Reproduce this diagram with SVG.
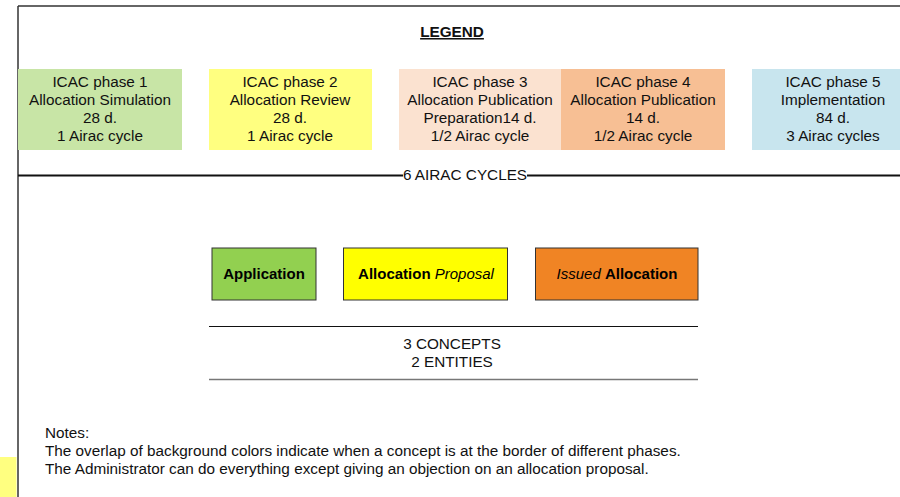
<svg xmlns="http://www.w3.org/2000/svg" width="900" height="497" viewBox="0 0 900 497">
<style>
.t{font-family:"Liberation Sans",Arial,sans-serif;font-size:15.3px;fill:#111;text-anchor:middle}
.c{font-family:"Liberation Sans",Arial,sans-serif;font-size:15px;fill:#000;text-anchor:middle}
.n{font-family:"Liberation Sans",Arial,sans-serif;font-size:15.3px;fill:#111}
.box{stroke:#333;stroke-width:1}
</style>
<rect width="900" height="497" fill="#fff"/>
<rect x="0" y="457" width="16.5" height="40" fill="#ffff80"/>
<g id="frame" stroke="#333" stroke-width="1.5" fill="none">
<line x1="18" y1="6" x2="900" y2="6"/>
<line x1="18" y1="6" x2="18" y2="497"/>
</g>
<g id="legend-title"><text x="452" y="37" class="t" style="font-weight:bold;text-decoration:underline">LEGEND</text></g>
<g id="phase1"><rect x="18" y="69" width="164" height="81" fill="#c8e5a6"/>
<text class="t"><tspan x="100" y="87">ICAC phase 1</tspan><tspan x="100" y="105">Allocation Simulation</tspan><tspan x="100" y="123">28 d.</tspan><tspan x="100" y="141">1 Airac cycle</tspan></text></g>
<g id="phase2"><rect x="209" y="69" width="163" height="81" fill="#ffff80"/>
<text class="t"><tspan x="290" y="87">ICAC phase 2</tspan><tspan x="290" y="105">Allocation Review</tspan><tspan x="290" y="123">28 d.</tspan><tspan x="290" y="141">1 Airac cycle</tspan></text></g>
<g id="phase3"><rect x="399" y="69" width="162" height="81" fill="#fbe2d0"/>
<text class="t"><tspan x="480" y="87">ICAC phase 3</tspan><tspan x="480" y="105">Allocation Publication</tspan><tspan x="480" y="123">Preparation14 d.</tspan><tspan x="480" y="141">1/2 Airac cycle</tspan></text></g>
<g id="phase4"><rect x="561" y="69" width="164" height="81" fill="#f7bf94"/>
<text class="t"><tspan x="643" y="87">ICAC phase 4</tspan><tspan x="643" y="105">Allocation Publication</tspan><tspan x="643" y="123">14 d.</tspan><tspan x="643" y="141">1/2 Airac cycle</tspan></text></g>
<g id="phase5"><rect x="752" y="69" width="148" height="81" fill="#c8e5ee"/>
<text class="t"><tspan x="833" y="87">ICAC phase 5</tspan><tspan x="833" y="105">Implementation</tspan><tspan x="833" y="123">84 d.</tspan><tspan x="833" y="141">3 Airac cycles</tspan></text></g>
<g id="connectors" stroke="#111" fill="none">
<line x1="18" y1="175.5" x2="403" y2="175.5" stroke-width="2"/>
<line x1="527" y1="175.5" x2="900" y2="175.5" stroke-width="2"/>
<line x1="209" y1="326.5" x2="698" y2="326.5" stroke-width="1"/>
<line x1="209" y1="379.5" x2="698" y2="379.5" stroke="#777" stroke-width="1.5"/>
</g>
<g id="cycles-label"><text x="465" y="180" class="t">6 AIRAC CYCLES</text></g>
<g id="application"><rect x="212" y="248" width="104" height="52" fill="#92d050" class="box"/>
<text x="264" y="279" class="c" font-weight="bold">Application</text></g>
<g id="allocation-proposal"><rect x="343.5" y="248" width="164" height="52" fill="#ffff00" class="box"/>
<text x="426" y="279" class="c"><tspan font-weight="bold">Allocation</tspan> <tspan font-style="italic">Proposal</tspan></text></g>
<g id="issued-allocation"><rect x="535.5" y="248" width="162.5" height="52" fill="#f08424" class="box"/>
<text x="617" y="279" class="c"><tspan font-style="italic">Issued</tspan> <tspan font-weight="bold">Allocation</tspan></text></g>
<g id="summary"><text class="t"><tspan x="452" y="349">3 CONCEPTS</tspan><tspan x="452" y="367">2 ENTITIES</tspan></text></g>
<g id="notes"><text class="n"><tspan x="45" y="438">Notes:</tspan><tspan x="45" y="456">The overlap of background colors indicate when a concept is at the border of different phases.</tspan><tspan x="45" y="474">The Administrator can do everything except giving an objection on an allocation proposal.</tspan></text></g>
</svg>
